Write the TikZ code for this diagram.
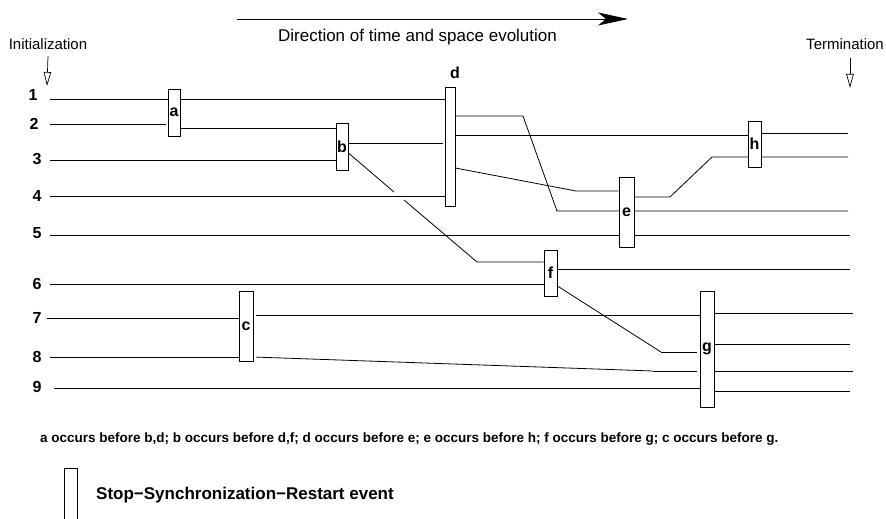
\documentclass[tikz,border=0pt]{standalone}
\usepackage{fontspec}
\setmainfont{Liberation Sans}
\usetikzlibrary{arrows.meta}
\pgfdeclarelayer{bg}
\pgfsetlayers{bg,main}
\begin{document}
\begin{tikzpicture}[x=1pt,y=-1pt,
  evbox/.style={draw, fill=white, inner sep=0pt, line width=0.8pt,
    font=\fontsize{16}{16}\selectfont\bfseries},
  lane/.style={line width=0.8pt},
  num/.style={inner sep=0pt, font=\fontsize{16}{16}\selectfont\bfseries},
  plain/.style={inner sep=0pt, font=\fontsize{15}{15}\selectfont},
]
\useasboundingbox (0,0) rectangle (886,519);

% header
\coordinate (tstart) at (237,19);
\coordinate (tend) at (628,19);
\draw[line width=0.9pt, -{Stealth[length=30pt,width=13pt,inset=8pt]}] (tstart) -- (tend);
\node[plain, anchor=base, font=\fontsize{17}{17}\selectfont] (title) at (417.5,41.5) {Direction of time and space evolution};

\node[plain, anchor=base] (init) at (48,49.3) {Initialization};
\node[plain, anchor=base] (term) at (845,49.3) {Termination};
\coordinate (initb) at (47,86);
\coordinate (termb) at (850,88);
\draw[line width=0.7pt, -{Triangle[open,length=14pt,width=7.5pt]}] (init.south |- 0,56) -- (initb);
\draw[line width=0.7pt, -{Triangle[open,length=14pt,width=7.5pt]}] (termb |- 0,58) -- (termb);

% lane numbers
\node[num] (n1) at (33,95) {1};
\node[num] (n2) at (34,124) {2};
\node[num] (n3) at (37,159) {3};
\node[num] (n4) at (37,196) {4};
\node[num] (n5) at (37,233) {5};
\node[num] (n6) at (37,284) {6};
\node[num] (n7) at (37,318) {7};
\node[num] (n8) at (37,357) {8};
\node[num] (n9) at (37,387) {9};

% events
\node[evbox, minimum width=12pt, minimum height=47pt] (a) at (174,112.5) {a};
\node[evbox, minimum width=12pt, minimum height=47pt] (b) at (342,146.5) {b};
\node[evbox, minimum width=14pt, minimum height=70pt] (c) at (246,326) {c};
\node[evbox, minimum width=10pt, minimum height=119pt] (d) at (450,146.5) {};
\node[num] (dl) at (455,73) {d};
\node[evbox, minimum width=15pt, minimum height=70pt] (e) at (626.5,212) {e};
\node[evbox, minimum width=13pt, minimum height=46pt] (f) at (550.5,273) {f};
\node[evbox, minimum width=14pt, minimum height=116pt] (g) at (707,349) {g};
\node[evbox, minimum width=13pt, minimum height=46pt] (h) at (754.5,144) {h};

% lane start / end / bend points
\coordinate (s1) at (50,99);
\coordinate (s2) at (50,124);
\coordinate (s3) at (50,160);
\coordinate (s4) at (50,196);
\coordinate (s5) at (50,235);
\coordinate (s6) at (50,284);
\coordinate (s7) at (47,318);
\coordinate (s8) at (50,357);
\coordinate (s9) at (54,388);
\coordinate (t1) at (848,133);
\coordinate (t2) at (848,157);
\coordinate (t3) at (848,211);
\coordinate (t4) at (850,235);
\coordinate (t5) at (850,269);
\coordinate (t6) at (853,313);
\coordinate (t7) at (850,344);
\coordinate (t8) at (853,371);
\coordinate (t9) at (850,391);
\coordinate (k1) at (523,116);
\coordinate (k2) at (557,211);
\coordinate (k3) at (576,191);
\coordinate (k4) at (670,197);
\coordinate (k5) at (712,157);
\coordinate (k6) at (394,192);
\coordinate (k7) at (404,200);
\coordinate (k8) at (477,262);
\coordinate (k9) at (661,352);
\coordinate (k10) at (653,371);

\begin{pgfonlayer}{bg}
\draw[lane] (s1) -- (d.west |- s1);
\draw[lane, shorten >=2pt] (s2) -- (a.west |- s2);
\draw[lane] (a.east |- 0,128) -- (b.west |- 0,128);
\draw[lane] (s3) -- (b.west |- s3);
\draw[lane, shorten >=2pt] (b.east |- 0,143) -- (d.west |- 0,143);
\draw[lane] (b.east |- 0,153) -- (k6);
\draw[lane] (k7) -- (k8) -- (f.west |- k8);
\draw[lane] (s4) -- (d.west |- s4);
\draw[lane] (s5) -- (t4);
\draw[lane] (d.east |- k1) -- (k1) -- (k2) -- (t3);
\draw[lane] (d.east |- 0,135) -- (h.west |- 0,135);
\draw[lane] (h.east |- t1) -- (t1);
\draw[lane] (d.east |- 0,168) -- (k3) -- (e.west |- k3);
\draw[lane] (e.east |- k4) -- (k4) -- (k5) -- (t2);
\draw[lane] (s6) -- (f.west |- s6);
\draw[lane] (f.east |- t5) -- (t5);
\draw[lane] (f.east |- 0,286) -- (k9);
\draw[lane, shorten >=3pt] (k9) -- (g.west |- k9);
\draw[lane] (s7) -- (c.west |- s7);
\draw[lane, shorten <=3pt] (c.east |- 0,315) -- (g.west |- 0,315);
\draw[lane] (s8) -- (c.west |- s8);
\draw[lane, shorten <=3pt] (c.east |- s8) -- (k10);
\draw[lane, shorten >=3pt] (k10) -- (g.west |- k10);
\draw[lane] (s9) -- (g.west |- s9);
\draw[lane] (g.east |- t6) -- (t6);
\draw[lane] (g.east |- t7) -- (t7);
\draw[lane] (g.east |- t8) -- (t8);
\draw[lane] (g.east |- t9) -- (t9);
\end{pgfonlayer}

% footer
\node[inner sep=0pt, anchor=base west, font=\fontsize{13.5}{13.5}\selectfont\bfseries] (order) at (40,442.7)
  {a occurs before b,d; b occurs before d,f; d occurs before e; e occurs before h; f occurs before g; c occurs before g.};
\coordinate (lg1) at (64,523);
\coordinate (lg2) at (77,468);
\draw[line width=0.8pt] (lg1) -- (lg1 |- lg2) -- (lg2) -- (lg2 |- lg1);
\node[inner sep=0pt, anchor=base west, font=\fontsize{17}{17}\selectfont\bfseries] (legend) at (96,499)
  {Stop−Synchronization−Restart event};
\end{tikzpicture}
\end{document}
